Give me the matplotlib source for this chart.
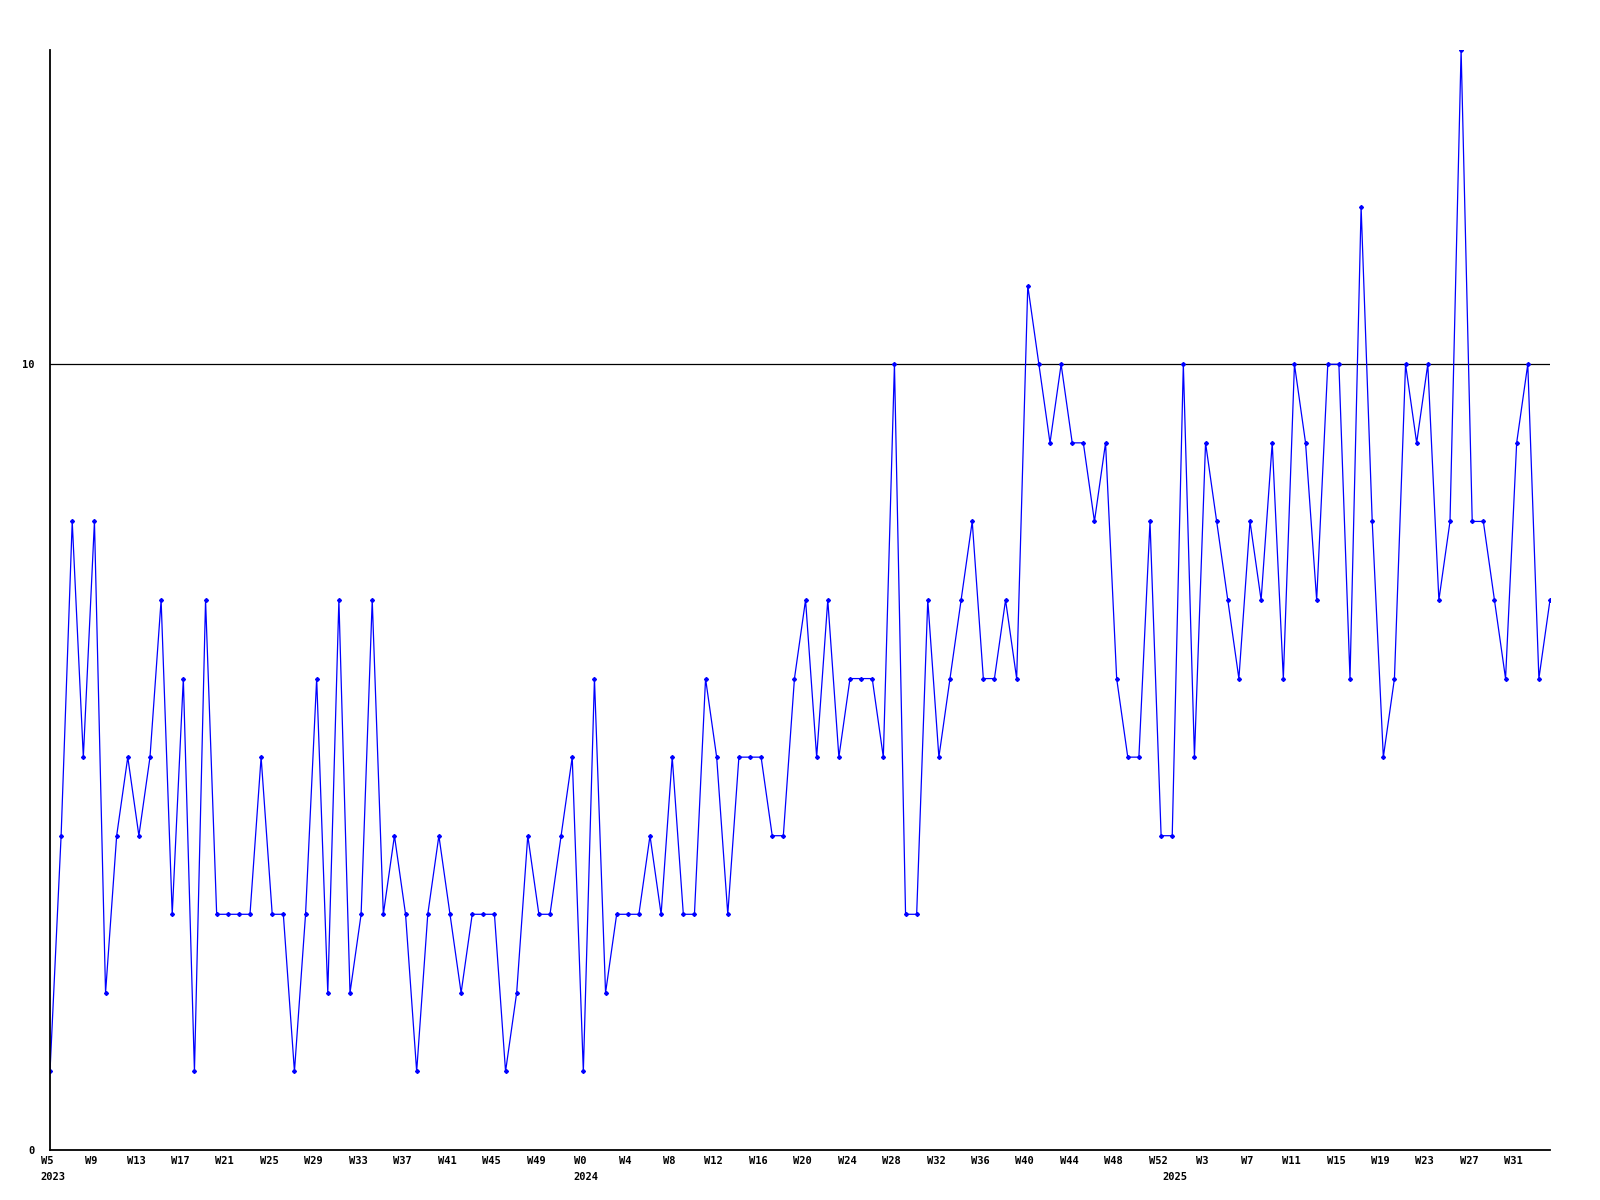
import numpy as np
import matplotlib
matplotlib.use("Agg")
import matplotlib.pyplot as plt
import matplotlib.transforms as mtransforms

# weekly counts, W5 2023 .. W35 2025
values = [
    1, 4, 8, 5, 8, 2, 4, 5, 4, 5, 7, 3, 6, 1, 7, 3, 3, 3, 3, 5,
    3, 3, 1, 3, 6, 2, 7, 2, 3, 7, 3, 4, 3, 1, 3, 4, 3, 2, 3, 3,
    3, 1, 2, 4, 3, 3, 4, 5, 1, 6, 2, 3, 3, 3, 4, 3, 5, 3, 3, 6,
    5, 3, 5, 5, 5, 4, 4, 6, 7, 5, 7, 5, 6, 6, 6, 5, 10, 3, 3, 7,
    5, 6, 7, 8, 6, 6, 7, 6, 11, 10, 9, 10, 9, 9, 8, 9, 6, 5, 5, 8,
    4, 4, 10, 5, 9, 8, 7, 6, 8, 7, 9, 6, 10, 9, 7, 10, 10, 6, 12, 8,
    5, 6, 10, 9, 10, 7, 8, 14, 8, 8, 7, 6, 9, 10, 6, 7,
]

week_labels = [
    "W5", "W9", "W13", "W17", "W21", "W25", "W29", "W33", "W37", "W41", "W45", "W49",
    "W0", "W4", "W8", "W12", "W16", "W20", "W24", "W28", "W32", "W36", "W40", "W44",
    "W48", "W52", "W3", "W7", "W11", "W15", "W19", "W23", "W27", "W31",
]
week_label_pos = [0, 4, 8, 12, 16, 20, 24, 28, 32, 36, 40, 44,
                  48, 52, 56, 60, 64, 68, 72, 76, 80, 84, 88, 92,
                  96, 100, 104, 108, 112, 116, 120, 124, 128, 132]

years = ["2023", "2024", "2025"]
year_pos = [0, 48, 101]

x = np.arange(len(values))

fig = plt.figure(figsize=(16, 12), dpi=100)
ax = fig.add_axes([50 / 1600, 50 / 1200, 1500 / 1600, 1100 / 1200])

ax.axhline(10, color="black", linewidth=0.9, zorder=1)
ax.plot(x, values, color="#0000ff", linewidth=0.9, marker="D", markersize=2, zorder=2)

ax.set_xlim(0, len(values) - 1)
ax.set_ylim(0, 14)

for side in ["top", "right"]:
    ax.spines[side].set_visible(False)
ax.spines["left"].set_linewidth(1.3)
ax.spines["bottom"].set_linewidth(1.3)

font = dict(family="DejaVu Sans Mono", fontsize=7.5, fontweight="bold")

ax.set_yticks([0, 10])
ax.set_yticklabels(["0", "10"], **font)
ax.tick_params(axis="y", length=0, pad=11)

ax.set_xticks(week_label_pos)
ax.set_xticklabels(week_labels, **font)
ax.tick_params(axis="x", length=0, pad=4)
shift = mtransforms.ScaledTranslation(-3 / 100, 0, fig.dpi_scale_trans)
for lbl in ax.get_xticklabels():
    lbl.set_transform(lbl.get_transform() + shift)

for label, pos in zip(years, year_pos):
    ax.annotate(label, xy=(pos, 0), xycoords="data", xytext=(2, -16),
                textcoords="offset points", ha="center", va="top", **font)

fig.savefig("out.png", dpi=100, facecolor="white")
